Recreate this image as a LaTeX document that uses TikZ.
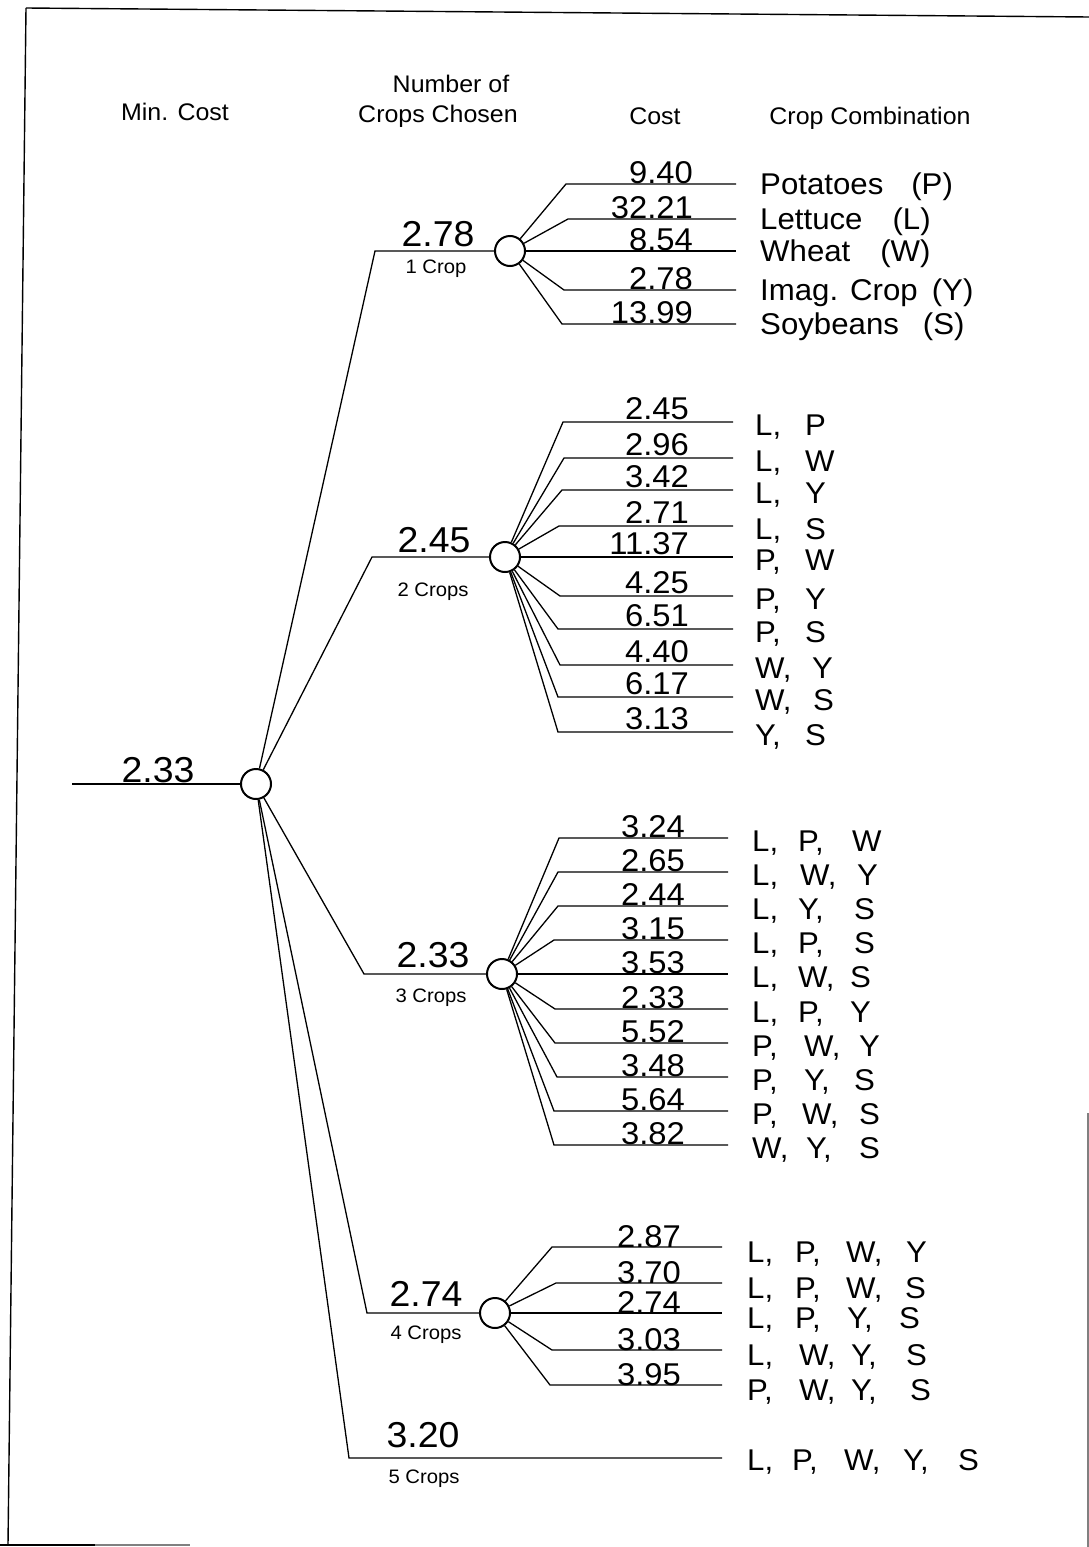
\documentclass[tikz,border=0pt]{standalone}
\usepackage{fontspec}
\setmainfont{Liberation Sans}[FakeStretch=1.04]
\newcommand\sg[2]{\makebox[#1pt][l]{#2}}
\begin{document}
\begin{tikzpicture}[x=1pt,y=-1pt,
  conn/.style={line width=1.3pt},
  frame/.style={line width=1.4pt},
  circ/.style={circle,draw,line width=2pt,minimum size=30pt,inner sep=0pt,fill=white},
  cost/.style={anchor=base east,inner sep=0pt,font=\fontsize{31.5}{31.5}\selectfont},
  combo/.style={anchor=base west,inner sep=0pt,font=\fontsize{30}{30}\selectfont},
  blab/.style={anchor=base,inner sep=0pt,font=\fontsize{36}{36}\selectfont},
  small/.style={anchor=base,inner sep=0pt,font=\fontsize{19.5}{19.5}\selectfont},
  head/.style={anchor=base,inner sep=0pt,font=\fontsize{24}{24}\selectfont}]
\useasboundingbox (0,0) rectangle (1089,1547);
% frame
\draw[frame] (26,8) -- (1089,17);
\draw[frame] (26,8) -- (8,1545);
\draw[frame] (0,1545) -- (95,1545);
\draw[frame,gray] (95,1545) -- (190,1545);
\draw[frame,gray] (1088,1113) -- (1088,1547);
% headers
\node[head] (h1) at (175,120) {Min. Cost};
\node[head] (h2) at (451,92) {Number of};
\node[head] (h3) at (438,122) {Crops Chosen};
\node[head] (h4) at (655,124) {Cost};
\node[head] (h5) at (870,124) {Crop Combination};
% main node
\node[circ] (m) at (256,784) {};
\coordinate (in) at (72,784);
\draw[conn] (in) -- (m);
\node[blab] (ml) at (158,782) {2.33};
% branch circles
\node[circ] (b1) at (510,251) {};
\node[circ] (b2) at (505,557) {};
\node[circ] (b3) at (502,974) {};
\node[circ] (b4) at (495,1313) {};
\coordinate (k1) at (375,251);
\coordinate (k2) at (372,557);
\coordinate (k3) at (364,974);
\coordinate (k4) at (367,1313);
\coordinate (k5) at (349,1458);
\coordinate (t5) at (722,1458);
\draw[conn] (m) -- (k1) -- (b1);
\draw[conn] (m) -- (k2) -- (b2);
\draw[conn] (m) -- (k3) -- (b3);
\draw[conn] (m) -- (k4) -- (b4);
\draw[conn] (m) -- (k5) -- (t5);
% branch labels
\node[blab] (l1) at (438,246) {2.78};
\node[small] (s1) at (436,273) {1 Crop};
\node[blab] (l2) at (434,552) {2.45};
\node[small] (s2) at (433,596) {2 Crops};
\node[blab] (l3) at (433,967) {2.33};
\node[small] (s3) at (431,1002) {3 Crops};
\node[blab] (l4) at (426,1306) {2.74};
\node[small] (s4) at (426,1339) {4 Crops};
\node[blab] (l5) at (423,1447) {3.20};
\node[small] (s5) at (424,1483) {5 Crops};
\node[combo] (c5) at (747,1470) {\sg{45}{L,}\sg{52}{P,}\sg{59}{W,}\sg{55}{Y,}S};
% group 1
\foreach \i/\y/\ex/\c/\t in {
  1/184/566/9.40/{Potatoes\hspace{28pt}(P)},
  2/219/568/32.21/{Lettuce\hspace{30pt}(L)},
  3/251/566/8.54/{Wheat\hspace{30pt}(W)},
  4/290/564/2.78/{Imag.\hspace{12pt}Crop\hspace{14pt}(Y)},
  5/324/562/13.99/{Soybeans\hspace{24pt}(S)}}{
  \coordinate (e1\i) at (\ex,\y);
  \coordinate (t1\i) at (736,\y);
  \draw[conn] (b1) -- (e1\i) -- (t1\i);
  \node[cost] (v1\i) at (693,\y-1) {\c};
  \node[combo] (n1\i) at (760,\y+10) {\t};
}
% group 2
\foreach \i/\y/\ex/\c/\t in {
  1/422/563/2.45/{\sg{50}{L,}P},
  2/458/564/2.96/{\sg{50}{L,}W},
  3/490/562/3.42/{\sg{50}{L,}Y},
  4/526/559/2.71/{\sg{50}{L,}S},
  5/557/560/11.37/{\sg{50}{P,}W},
  6/596/560/4.25/{\sg{50}{P,}Y},
  7/629/558/6.51/{\sg{50}{P,}S},
  8/665/560/4.40/{\sg{57}{W,}Y},
  9/697/558/6.17/{\sg{58}{W,}S},
  10/732/558/3.13/{\sg{50}{Y,}S}}{
  \coordinate (e2\i) at (\ex,\y);
  \coordinate (t2\i) at (733,\y);
  \draw[conn] (b2) -- (e2\i) -- (t2\i);
  \node[cost] (v2\i) at (689,\y-3) {\c};
  \node[combo] (n2\i) at (755,\y+13) {\t};
}
% group 3
\foreach \i/\y/\ex/\c/\t in {
  1/838/559/3.24/{\sg{46}{L,}\sg{54}{P,}W},
  2/872/558/2.65/{\sg{48}{L,}\sg{57}{W,}Y},
  3/906/558/2.44/{\sg{46}{L,}\sg{56}{Y,}S},
  4/940/554/3.15/{\sg{46}{L,}\sg{56}{P,}S},
  5/974/556/3.53/{\sg{46}{L,}\sg{52}{W,}S},
  6/1009/555/2.33/{\sg{46}{L,}\sg{52}{P,}Y},
  7/1043/555/5.52/{\sg{52}{P,}\sg{55}{W,}Y},
  8/1077/557/3.48/{\sg{52}{P,}\sg{50}{Y,}S},
  9/1111/554/5.64/{\sg{50}{P,}\sg{57}{W,}S},
  10/1145/554/3.82/{\sg{54}{W,}\sg{53}{Y,}S}}{
  \coordinate (e3\i) at (\ex,\y);
  \coordinate (t3\i) at (728,\y);
  \draw[conn] (b3) -- (e3\i) -- (t3\i);
  \node[cost] (v3\i) at (685,\y-1) {\c};
  \node[combo] (n3\i) at (752,\y+13) {\t};
}
% group 4
\foreach \i/\y/\ex/\c/\t in {
  1/1247/552/2.87/{\sg{48}{L,}\sg{51}{P,}\sg{60}{W,}Y},
  2/1283/556/3.70/{\sg{48}{L,}\sg{51}{P,}\sg{59}{W,}S},
  3/1313/554/2.74/{\sg{48}{L,}\sg{52}{P,}\sg{52}{Y,}S},
  4/1350/552/3.03/{\sg{52}{L,}\sg{52}{W,}\sg{55}{Y,}S},
  5/1385/550/3.95/{\sg{52}{P,}\sg{52}{W,}\sg{59}{Y,}S}}{
  \coordinate (e4\i) at (\ex,\y);
  \coordinate (t4\i) at (722,\y);
  \draw[conn] (b4) -- (e4\i) -- (t4\i);
  \node[cost] (v4\i) at (681,\y) {\c};
  \node[combo] (n4\i) at (747,\y+15) {\t};
}
\end{tikzpicture}
\end{document}
